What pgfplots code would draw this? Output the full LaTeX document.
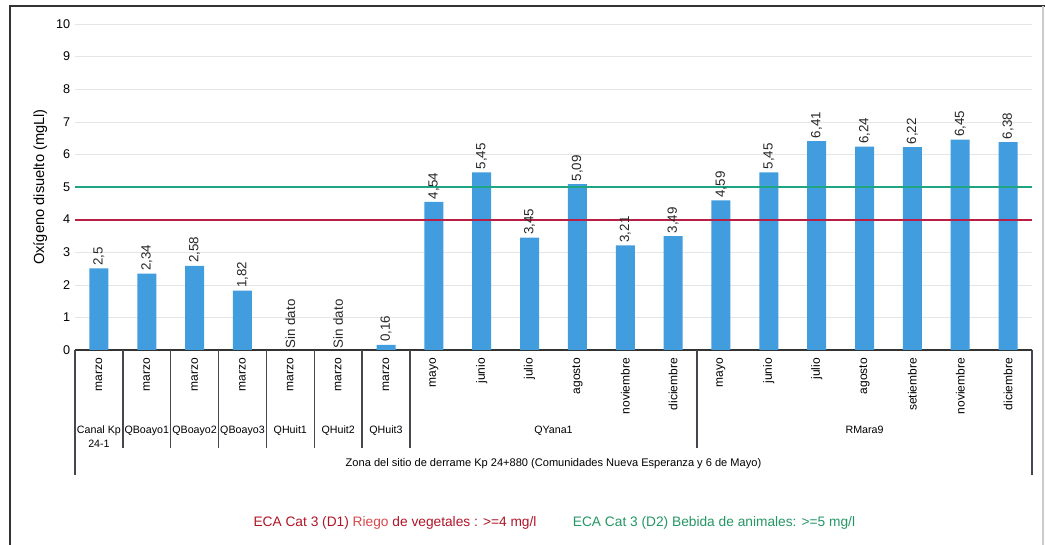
\documentclass[border=0pt]{standalone}
\usepackage{fontspec}
\setmainfont{Liberation Sans}
\usepackage{pgfplots}
\pgfplotsset{compat=1.18}
\definecolor{barblue}{RGB}{66,157,222}
\definecolor{ecagreen}{RGB}{30,165,130}
\definecolor{ecacrimson}{RGB}{185,30,70}
\definecolor{tred}{RGB}{175,20,40}
\definecolor{triego}{RGB}{215,70,75}
\definecolor{tgreen}{RGB}{35,150,100}
\definecolor{sepgray}{RGB}{70,70,80}
\begin{document}
\begin{tikzpicture}[
  month/.style={yshift=-6pt, rotate=90, anchor=east, font=\fontsize{9}{10}\selectfont, inner sep=0pt},
  grp/.style={yshift=-57pt, anchor=north, align=center, font=\fontsize{8}{10}\selectfont, inner sep=0pt},
]
\begin{scope}[x=0.75pt,y=0.75pt]
\path[use as bounding box] (0,0) rectangle (1045,545);
\draw[line width=1.6pt, black!80] (10,0) -- (10,539) -- (1045,539);
\draw[line width=0.8pt, black!20] (1043,539) -- (1043,0);
\node[text=tred, font=\fontsize{10.3}{12}\selectfont] at (395,22) {ECA Cat 3 (D1) {\color{triego}Riego} de vegetales : >=4 mg/l};
\node[text=tgreen, font=\fontsize{10.3}{12}\selectfont] at (714,22) {ECA Cat 3 (D2) Bebida de animales: >=5 mg/l};
\end{scope}
\begin{axis}[
  at={(56.25pt,146.25pt)}, anchor=south west,
  scale only axis, width=717.75pt, height=244.5pt,
  xmin=-0.5, xmax=19.5, ymin=0, ymax=10,
  ytick={0,...,10}, xtick=\empty,
  ymajorgrids, grid style={draw=black!10, line width=0.4pt},
  axis lines*=left,
  y axis line style={draw=none},
  x axis line style={draw=black!80, line width=1pt, -},
  major tick length=0pt,
  tick label style={font=\fontsize{9.5}{11}\selectfont},
  /pgf/number format/assume math mode=true,
  ylabel={Oxígeno disuelto (mgLl)},
  ylabel style={font=\fontsize{11}{12}\selectfont},
  clip=false,
]
\addplot[ybar, bar width=14.25pt, fill=barblue, draw=none,
  nodes near coords={\pgfmathprintnumber[use comma]{\pgfplotspointmeta}},
  every node near coord/.style={rotate=90, anchor=west, font=\fontsize{10}{11}\selectfont, inner sep=2pt, black!85}]
coordinates {
(0,2.5)(1,2.34)(2,2.58)(3,1.82)(6,0.16)
(7,4.54)(8,5.45)(9,3.45)(10,5.09)(11,3.21)(12,3.49)
(13,4.59)(14,5.45)(15,6.41)(16,6.24)(17,6.22)(18,6.45)(19,6.38)};
\addplot[color=ecacrimson, line width=1.5pt, mark=none, opacity=1] coordinates {(-0.5,4)(9.5,4)(19.5,4)};
\addplot[draw=ecagreen, line width=1.2pt, mark=none] coordinates {(-0.5,5)(19.5,5)};
\node[rotate=90, anchor=west, inner sep=1pt, font=\fontsize{10}{11}\selectfont, black!85] at (axis cs:4,0) {Sin dato};
\node[rotate=90, anchor=west, inner sep=1pt, font=\fontsize{10}{11}\selectfont, black!85] at (axis cs:5,0) {Sin dato};
\pgfplotsinvokeforeach{0.5,1.5,2.5,3.5,4.5,5.5,6.5,12.5}{
  \draw[sepgray, line width=1pt] (axis cs:#1,0) -- ++(0pt,-73.5pt);
}
\pgfplotsinvokeforeach{-0.5,19.5}{
  \draw[sepgray, line width=1pt] (axis cs:#1,0) -- ++(0pt,-93.75pt);
}
\node[month] at (axis cs:0,0) {marzo};
\node[month] at (axis cs:1,0) {marzo};
\node[month] at (axis cs:2,0) {marzo};
\node[month] at (axis cs:3,0) {marzo};
\node[month] at (axis cs:4,0) {marzo};
\node[month] at (axis cs:5,0) {marzo};
\node[month] at (axis cs:6,0) {marzo};
\node[month] at (axis cs:7,0) {mayo};
\node[month] at (axis cs:8,0) {junio};
\node[month] at (axis cs:9,0) {julio};
\node[month] at (axis cs:10,0) {agosto};
\node[month] at (axis cs:11,0) {noviembre};
\node[month] at (axis cs:12,0) {diciembre};
\node[month] at (axis cs:13,0) {mayo};
\node[month] at (axis cs:14,0) {junio};
\node[month] at (axis cs:15,0) {julio};
\node[month] at (axis cs:16,0) {agosto};
\node[month] at (axis cs:17,0) {setiembre};
\node[month] at (axis cs:18,0) {noviembre};
\node[month] at (axis cs:19,0) {diciembre};
\node[grp] at (axis cs:0,0) {Canal Kp\\24-1};
\node[grp] at (axis cs:1,0) {QBoayo1};
\node[grp] at (axis cs:2,0) {QBoayo2};
\node[grp] at (axis cs:3,0) {QBoayo3};
\node[grp] at (axis cs:4,0) {QHuit1};
\node[grp] at (axis cs:5,0) {QHuit2};
\node[grp] at (axis cs:6,0) {QHuit3};
\node[grp] at (axis cs:9.5,0) {QYana1};
\node[grp] at (axis cs:16,0) {RMara9};
\node[yshift=-85.5pt, font=\fontsize{8.3}{10}\selectfont, inner sep=0pt] at (axis cs:9.5,0) {Zona del sitio de derrame Kp 24+880 (Comunidades Nueva Esperanza y 6 de Mayo)};
\end{axis}
\end{tikzpicture}
\end{document}
